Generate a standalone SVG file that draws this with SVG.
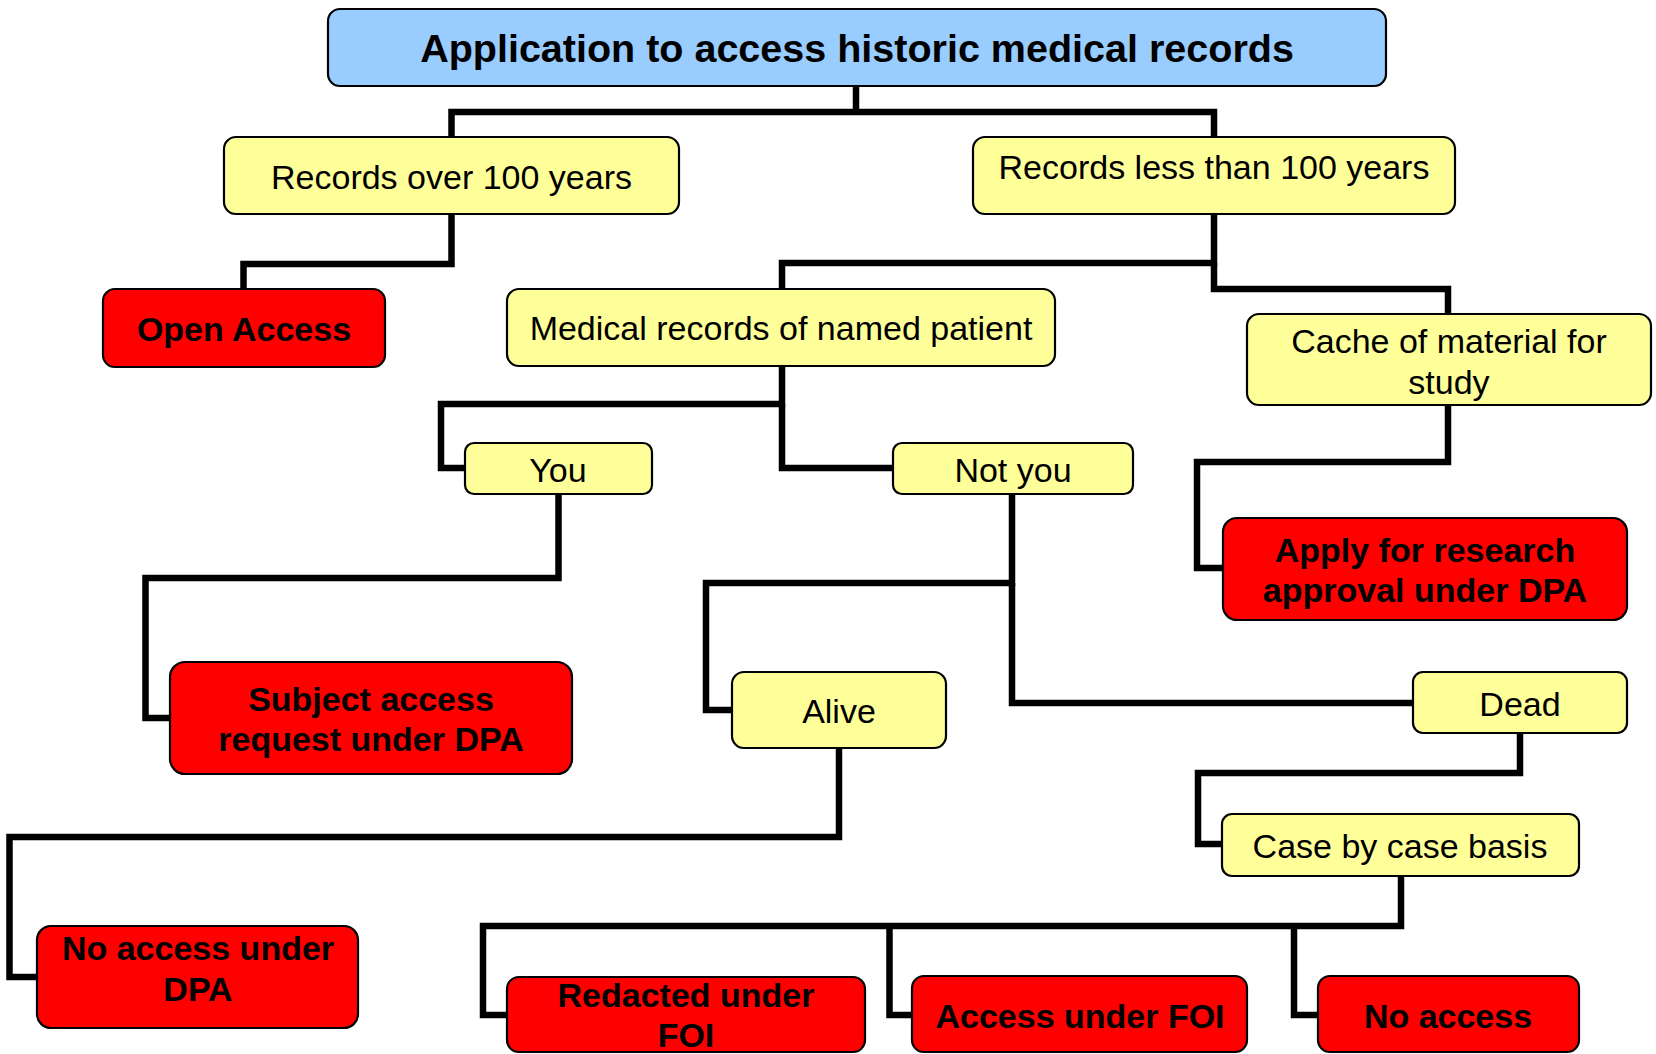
<svg xmlns="http://www.w3.org/2000/svg" width="1656" height="1054" viewBox="0 0 1656 1054">
<style>
.box{stroke:#000;stroke-width:2.2}
.blue{fill:#99CCFF}
.yel{fill:#FFFF99}
.red{fill:#FF0000}
text{font-family:"Liberation Sans",Arial,sans-serif;fill:#000;text-anchor:middle}
.t{font-size:34px}
.b{font-size:34px;font-weight:bold}
.h{font-size:39.5px;font-weight:bold}
.conn path{fill:none;stroke:#000;stroke-width:6.5;stroke-linejoin:miter}
</style>
<rect width="1656" height="1054" fill="#fff"/>
<g class="conn" id="connectors">
<path d="M856,86 V112"/>
<path d="M451.5,137 V112 H1214 V137"/>
<path d="M451.5,214 V264 H243.5 V289"/>
<path d="M1214,214 V263 H782 V289"/>
<path d="M1214,263 V289 H1448 V314"/>
<path d="M782,366 V404 H441 V468 H465"/>
<path d="M782,404 V468 H893"/>
<path d="M558.5,494 V578 H145.5 V718 H170"/>
<path d="M1012,494 V583 H706 V710 H732"/>
<path d="M1012,583 V703 H1413"/>
<path d="M1448,405 V462 H1197 V568 H1223"/>
<path d="M839,748 V837 H9.5 V977 H37"/>
<path d="M1520,733 V773 H1198 V844 H1222"/>
<path d="M1401,876 V926 H483 V1015 H507"/>
<path d="M889.5,926 V1015 H912"/>
<path d="M1294,926 V1015 H1318"/>
</g>
<g id="title"><rect class="box blue" x="328" y="9" width="1058" height="77" rx="12"/><text class="h" x="857" y="62">Application to access historic medical records</text></g>
<g id="over100"><rect class="box yel" x="224" y="137" width="455" height="77" rx="12"/><text class="t" x="451.5" y="189">Records over 100 years</text></g>
<g id="less100"><rect class="box yel" x="973" y="137" width="482" height="77" rx="12"/><text class="t" x="1214" y="179">Records less than 100 years</text></g>
<g id="openaccess"><rect class="box red" x="103" y="289" width="282" height="78" rx="12"/><text class="b" x="244" y="341">Open Access</text></g>
<g id="medical"><rect class="box yel" x="507" y="289" width="548" height="77" rx="12"/><text class="t" x="781" y="340">Medical records of named patient</text></g>
<g id="cache"><rect class="box yel" x="1247" y="314" width="404" height="91" rx="12"/><text class="t" x="1449" y="353">Cache of material for</text><text class="t" x="1449" y="394">study</text></g>
<g id="you"><rect class="box yel" x="465" y="443" width="187" height="51" rx="9"/><text class="t" x="558" y="482">You</text></g>
<g id="notyou"><rect class="box yel" x="893" y="443" width="240" height="51" rx="9"/><text class="t" x="1013" y="482">Not you</text></g>
<g id="apply"><rect class="box red" x="1223" y="518" width="404" height="102" rx="14"/><text class="b" x="1425" y="562">Apply for research</text><text class="b" x="1425" y="602">approval under DPA</text></g>
<g id="subject"><rect class="box red" x="170" y="662" width="402" height="112" rx="15"/><text class="b" x="371" y="711">Subject access</text><text class="b" x="371" y="751">request under DPA</text></g>
<g id="alive"><rect class="box yel" x="732" y="672" width="214" height="76" rx="12"/><text class="t" x="839" y="723">Alive</text></g>
<g id="dead"><rect class="box yel" x="1413" y="672" width="214" height="61" rx="10"/><text class="t" x="1520" y="716">Dead</text></g>
<g id="casebycase"><rect class="box yel" x="1222" y="814" width="357" height="62" rx="10"/><text class="t" x="1400" y="858">Case by case basis</text></g>
<g id="noaccessdpa"><rect class="box red" x="37" y="926" width="321" height="102" rx="14"/><text class="b" x="198" y="960">No access under</text><text class="b" x="198" y="1001">DPA</text></g>
<g id="redacted"><rect class="box red" x="507" y="977" width="358" height="75" rx="12"/><text class="b" x="686" y="1007">Redacted under</text><text class="b" x="686" y="1047">FOI</text></g>
<g id="accessfoi"><rect class="box red" x="912" y="976" width="335" height="76" rx="12"/><text class="b" x="1080" y="1028">Access under FOI</text></g>
<g id="noaccess"><rect class="box red" x="1318" y="976" width="261" height="76" rx="12"/><text class="b" x="1448" y="1028">No access</text></g>
</svg>
